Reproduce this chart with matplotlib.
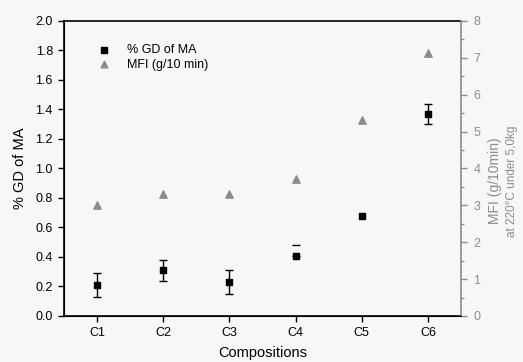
"""Grafting degree (% GD of MA) and MFI per composition, twin y axes."""

import matplotlib
matplotlib.use("Agg")
import matplotlib.pyplot as plt
from matplotlib.ticker import MultipleLocator, FormatStrFormatter

plt.rcParams["font.family"] = ["Liberation Sans", "DejaVu Sans"]

# data
compositions = ["C1", "C2", "C3", "C4", "C5", "C6"]
gd_ma = [0.21, 0.31, 0.23, 0.41, 0.68, 1.37]
gd_err_low = [0.08, 0.07, 0.08, 0.0, 0.0, 0.07]
gd_err_high = [0.08, 0.07, 0.08, 0.07, 0.0, 0.07]
mfi = [3.0, 3.31, 3.31, 3.72, 5.32, 7.12]

GREY = "#8c8c8c"
BG = "#f7f7f7"

fig = plt.figure(figsize=(5.23, 3.62), dpi=100, facecolor=BG)
ax = fig.add_axes([0.1224, 0.1271, 0.7591, 0.8149])
ax.set_facecolor(BG)
ax2 = ax.twinx()

x = list(range(1, len(compositions) + 1))

# C4 only has its upper cap visible in the original
idx_bar = [0, 1, 2, 5]
ax.errorbar([x[i] for i in idx_bar], [gd_ma[i] for i in idx_bar],
            yerr=[[gd_err_low[i] for i in idx_bar], [gd_err_high[i] for i in idx_bar]],
            fmt="none", ecolor="black", elinewidth=1.0, capsize=3, capthick=1.0, zorder=3)
ax.errorbar([x[3]], [gd_ma[3]], yerr=[[gd_err_low[3]], [gd_err_high[3]]],
            fmt="none", ecolor="black", elinewidth=0, capsize=3, capthick=1.0, zorder=3)
sq = ax.scatter(x, gd_ma, marker="s", s=22, color="black", zorder=4, label="% GD of MA")
tr = ax2.scatter(x, mfi, marker="^", s=28, color=GREY, zorder=4, label="MFI (g/10 min)")

ax.set_xlim(0.5, 6.5)
ax.set_ylim(0, 2.0)
ax2.set_ylim(0, 8)
ax.set_xticks(x)
ax.set_xticklabels(compositions)
ax.yaxis.set_major_locator(MultipleLocator(0.2))
ax.yaxis.set_major_formatter(FormatStrFormatter("%.1f"))
ax2.yaxis.set_major_locator(MultipleLocator(1))
ax2.yaxis.set_minor_locator(MultipleLocator(0.5))

ax.tick_params(axis="both", labelsize=9, length=4, width=1, direction="out",
               colors="black", pad=4)
ax2.tick_params(axis="y", which="major", labelsize=9, length=4, width=1, colors=GREY,
                labelcolor=GREY, pad=5)
ax2.tick_params(axis="y", which="minor", length=2.5, width=1, colors=GREY)

for sp in ["left", "top", "bottom"]:
    ax.spines[sp].set_linewidth(1.2)
    ax.spines[sp].set_color("black")
ax2.spines["right"].set_color(GREY)
ax2.spines["right"].set_linewidth(1.2)
ax2.spines["top"].set_visible(False)
ax.spines["right"].set_visible(False)

ax.set_xlabel("Compositions", fontsize=10.5, labelpad=5)
ax.set_ylabel("% GD of MA", fontsize=10.5, labelpad=6)

fig.text(0.947, 0.5, "MFI (g/10min)", rotation=90, ha="center", va="center",
         fontsize=10, color=GREY)
fig.text(0.979, 0.5, "at 220°C under 5,0kg", rotation=90, ha="center", va="center",
         fontsize=8.5, color=GREY)

ax.legend(handles=[sq, tr], loc="upper left", bbox_to_anchor=(0.04, 0.96),
          frameon=False, fontsize=9, handletextpad=0.9, labelspacing=0.2,
          markerscale=0.9)

fig.savefig("out.png", dpi=100, facecolor=BG)
